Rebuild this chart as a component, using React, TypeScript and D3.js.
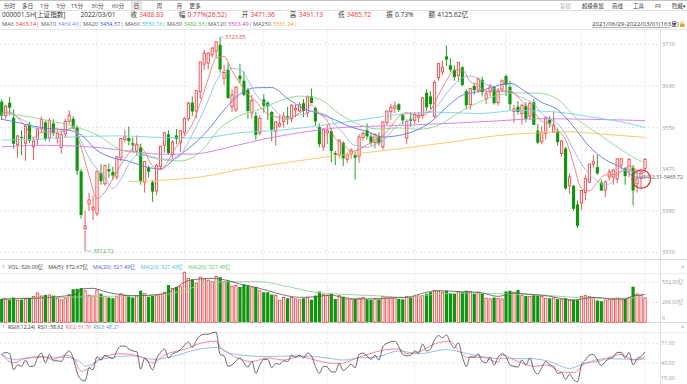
import React from 'react';
import * as d3 from 'd3';

const FONT = '"Open Sans", "Noto Sans CJK SC", sans-serif';

// ---- daily OHLC (2021/06/29 .. 2022/03/01, 163 trading days) ----
const opens = [
  3600, 3573, 3598, 3569, 3517, 3532, 3520, 3556, 3513, 3527,
  3548, 3560, 3530, 3558, 3530, 3512, 3538, 3562, 3567, 3551,
  3466, 3356, 3403, 3392, 3385, 3463, 3442, 3470, 3465, 3455,
  3492, 3527, 3530, 3520, 3505, 3512, 3445, 3473, 3445, 3428,
  3475, 3516, 3537, 3498, 3535, 3521, 3541, 3567, 3598, 3582,
  3619, 3672, 3674, 3690, 3697, 3709, 3645, 3661, 3590, 3584,
  3650, 3640, 3622, 3578, 3573, 3540, 3604, 3598, 3580, 3543,
  3553, 3562, 3572, 3567, 3584, 3582, 3597, 3578, 3610, 3588,
  3551, 3513, 3540, 3543, 3501, 3497, 3521, 3489, 3499, 3497,
  3495, 3531, 3545, 3533, 3521, 3533, 3513, 3560, 3581, 3587,
  3595, 3574, 3530, 3567, 3564, 3570, 3573, 3617, 3610, 3572,
  3646, 3657, 3687, 3670, 3661, 3650, 3666, 3620, 3594, 3630,
  3622, 3642, 3605, 3619, 3628, 3598, 3624, 3649, 3628, 3581,
  3590, 3577, 3592, 3572, 3599, 3544, 3523, 3539, 3565, 3541,
  3543, 3500, 3510, 3438, 3438, 3402, 3405, 3425, 3445, 3480,
  3474, 3444, 3430, 3455, 3455, 3451, 3478, 3472, 3467, 3473,
  3442, 3452, 3471.36,
];
const highs = [
  3604, 3594, 3609, 3585, 3536, 3545, 3556, 3561, 3532, 3550,
  3572, 3563, 3569, 3566, 3545, 3545, 3567, 3583, 3572, 3554,
  3470, 3390, 3425, 3420, 3468, 3480, 3479, 3481, 3475, 3495,
  3530, 3546, 3552, 3531, 3535, 3519, 3486, 3477, 3449, 3480,
  3515, 3541, 3545, 3526, 3547, 3545, 3570, 3600, 3610, 3622,
  3677, 3700, 3695, 3705, 3716, 3723.85, 3671, 3674, 3623, 3629,
  3673, 3658, 3626, 3613, 3580, 3574, 3614, 3601, 3582, 3562,
  3574, 3580, 3590, 3595, 3595, 3599, 3605, 3612, 3625, 3590,
  3558, 3549, 3557, 3548, 3505, 3527, 3524, 3502, 3510, 3504,
  3537, 3542, 3558, 3540, 3539, 3541, 3562, 3582, 3596, 3600,
  3597, 3576, 3566, 3580, 3580, 3580, 3609, 3624, 3620, 3641,
  3675, 3678, 3708, 3684, 3670, 3676, 3668, 3624, 3626, 3636,
  3647, 3648, 3623, 3634, 3630, 3626, 3643, 3652, 3640, 3594,
  3601, 3595, 3599, 3600, 3605, 3557, 3553, 3571, 3572, 3581,
  3548, 3527, 3513, 3462, 3440, 3410, 3430, 3459, 3480, 3497,
  3498, 3450, 3448, 3470, 3470, 3491, 3492, 3474, 3491, 3478,
  3465, 3468, 3491.13,
];
const lows = [
  3565, 3566, 3573, 3509, 3492, 3497, 3486, 3520, 3488, 3517,
  3540, 3524, 3523, 3533, 3519, 3500, 3530, 3557, 3546, 3459,
  3375, 3312.72, 3390, 3372, 3380, 3440, 3438, 3454, 3450, 3450,
  3486, 3522, 3516, 3503, 3497, 3440, 3425, 3454, 3407, 3420,
  3469, 3502, 3498, 3490, 3518, 3503, 3535, 3562, 3572, 3568,
  3605, 3661, 3662, 3685, 3684, 3656, 3632, 3605, 3580, 3580,
  3635, 3610, 3567, 3567, 3526, 3535, 3579, 3565, 3524, 3515,
  3550, 3550, 3556, 3560, 3570, 3580, 3570, 3570, 3597, 3553,
  3512, 3505, 3519, 3483, 3478, 3491, 3476, 3482, 3490, 3450,
  3482, 3525, 3527, 3516, 3510, 3515, 3508, 3555, 3565, 3578,
  3580, 3556, 3519, 3551, 3557, 3560, 3567, 3582, 3585, 3568,
  3640, 3651, 3668, 3657, 3640, 3638, 3629, 3585, 3585, 3613,
  3617, 3610, 3595, 3610, 3594, 3592, 3618, 3611, 3583, 3559,
  3575, 3556, 3560, 3565, 3555, 3518, 3518, 3527, 3550, 3541,
  3515, 3494, 3430, 3423, 3390, 3357, 3392, 3410, 3443, 3473,
  3459, 3428, 3416, 3448, 3440, 3443, 3470, 3440, 3455, 3400,
  3425, 3433, 3465.72,
];
const closes = [
  3573, 3591, 3588, 3519, 3534, 3530, 3553, 3525, 3524, 3547,
  3566, 3528, 3564, 3539, 3539, 3536, 3562, 3574, 3550, 3467,
  3382, 3361, 3411, 3397, 3465, 3447, 3477, 3466, 3458, 3494,
  3529, 3532, 3524, 3517, 3517, 3446, 3485, 3465, 3427, 3477,
  3514, 3540, 3501, 3522, 3528, 3544, 3567, 3597, 3581, 3621,
  3676, 3693, 3693, 3703, 3715, 3662, 3656, 3607, 3613, 3628,
  3643, 3613, 3582, 3602, 3536, 3568, 3592, 3591, 3546, 3561,
  3558, 3572, 3568, 3593, 3587, 3594, 3582, 3609, 3597, 3562,
  3518, 3547, 3544, 3505, 3498, 3526, 3491, 3498, 3507, 3492,
  3532, 3539, 3533, 3521, 3537, 3520, 3561, 3582, 3589, 3592,
  3584, 3564, 3562, 3563, 3576, 3573, 3607, 3589, 3595, 3637,
  3673, 3666, 3681, 3661, 3647, 3675, 3632, 3593, 3625, 3622,
  3643, 3618, 3615, 3630, 3597, 3620, 3640, 3632, 3595, 3586,
  3580, 3593, 3567, 3597, 3555, 3521, 3541, 3569, 3558, 3555,
  3522, 3524, 3433, 3455, 3394, 3361, 3429, 3452, 3480, 3485,
  3462, 3429, 3446, 3465, 3468, 3490, 3490, 3457, 3489, 3429,
  3451, 3462.31, 3488.83,
];
// volume (亿)
const volumes = [
  310, 300, 300, 330, 290, 300, 310, 320, 345, 390,
  350, 365, 365, 355, 320, 300, 320, 370, 440, 445,
  455, 420, 360, 350, 430, 380, 345, 330, 320, 340,
  380, 360, 345, 330, 350, 420, 380, 340, 350, 360,
  370, 400, 495, 450, 470, 480, 665, 585, 570, 520,
  600, 580, 560, 540, 610, 600, 540, 555, 480, 490,
  470, 500, 490, 460, 470, 420, 400, 400, 370, 360,
  290, 330, 320, 330, 310, 300, 320, 330, 300, 355,
  410, 370, 360, 380, 310, 355, 340, 310, 300, 310,
  320, 330, 305, 300, 310, 305, 345, 340, 335, 330,
  310, 305, 345, 330, 340, 350, 355, 380, 400, 420,
  415, 400, 420, 390, 380, 410, 400, 420, 410, 380,
  400, 377, 320, 310, 330, 315, 310, 410, 420, 400,
  430, 355, 350, 345, 360, 355, 345, 320, 320, 325,
  310, 300, 320, 290, 300, 295, 345, 355, 340, 330,
  290, 280, 295, 300, 305, 320, 300, 310, 330, 474,
  377, 360, 326,
];

// moving averages: [day index, value]
const ma6 = [[0,3577],[2,3580],[4,3569],[6,3552.5],[8,3530.8],[10,3540.8],[12,3542.3],[14,3547.2],[16,3544.7],[18,3550],[20,3511.8],[22,3457.5],[24,3413.8],[26,3426.3],[28,3451.7],[30,3478.5],[32,3500.5],[34,3518.8],[36,3503.5],[38,3476.2],[40,3469],[42,3487.3],[44,3513.7],[46,3533.7],[48,3556.5],[50,3597.7],[52,3643.5],[54,3683.5],[56,3687],[58,3659.3],[60,3634.8],[62,3614.3],[64,3600.7],[66,3582.2],[68,3572.5],[70,3569.3],[72,3566],[74,3573.2],[76,3582.7],[78,3593.7],[80,3577],[82,3562.8],[84,3529],[86,3518.5],[88,3504.2],[90,3507.7],[92,3516.8],[94,3525.7],[96,3535.2],[98,3551.7],[100,3571.3],[102,3578.8],[104,3573.5],[106,3574.2],[108,3583.8],[110,3612.3],[112,3640.2],[114,3660.8],[116,3660.3],[118,3638.8],[120,3631.7],[122,3619.3],[124,3620.8],[126,3620],[128,3619],[130,3608.8],[132,3592.2],[134,3579.7],[136,3562.3],[138,3556.8],[140,3544.3],[142,3526.8],[144,3480.5],[146,3432.7],[148,3428.5],[150,3444.8],[152,3459],[154,3459.2],[156,3464.7],[158,3476.5],[160,3467.7],[162,3463.14]];
const ma10 = [[0,3575],[2,3578],[4,3570],[6,3562],[8,3550],[10,3547.7],[12,3539],[14,3541.5],[16,3543],[18,3550.5],[20,3524.1],[22,3492.1],[24,3470.5],[26,3453.1],[28,3433.1],[30,3450.5],[32,3478.9],[34,3496.1],[36,3496.8],[38,3493.6],[40,3490.4],[42,3488.9],[44,3490.5],[46,3508.5],[48,3537.1],[50,3567.7],[52,3602.2],[54,3639],[56,3659.7],[58,3663.9],[60,3661.3],[62,3642.2],[64,3614.2],[66,3598.4],[68,3590.1],[70,3574.9],[72,3569.4],[74,3573.6],[76,3575.2],[78,3582.1],[80,3578.2],[82,3573.3],[84,3555.6],[86,3539.7],[88,3519.6],[90,3514],[92,3512.1],[94,3517.6],[96,3524],[98,3540.6],[100,3555.8],[102,3561.2],[104,3569.3],[106,3579.2],[108,3580.5],[110,3593.9],[112,3616],[114,3632.9],[116,3645.6],[118,3649],[120,3644.5],[122,3633.1],[124,3625],[126,3620.3],[128,3621.2],[130,3611.3],[132,3604],[134,3596.5],[136,3576.7],[138,3566.7],[140,3557.8],[142,3537.5],[144,3507.2],[146,3480],[148,3460.5],[150,3447.5],[152,3439.3],[154,3447.7],[156,3466.7],[158,3468.1],[160,3461.4],[162,3469.4]];
const ma20 = [[0,3566],[4,3560],[8,3553],[12,3548],[16,3546],[20,3535.9],[24,3506],[28,3491.8],[32,3485.5],[36,3475],[40,3470.5],[44,3493.3],[48,3515.4],[52,3545.6],[56,3584.1],[60,3614.5],[64,3626.6],[68,3627],[72,3605.8],[76,3586.8],[80,3576.6],[84,3564.6],[88,3550.9],[92,3542.7],[96,3531.9],[100,3534.9],[104,3543.5],[108,3560.6],[112,3588.6],[116,3612.4],[120,3619.2],[124,3629],[128,3635.1],[132,3618.6],[136,3598.5],[140,3584.6],[144,3551.9],[148,3513.6],[152,3488.4],[156,3473.4],[160,3454.5],[162,3454.57]];
const ma30 = [[0,3578],[6,3572],[12,3563],[18,3553],[24,3536],[30,3507.4],[35,3499.9],[40,3488.3],[45,3486],[50,3502.9],[55,3549],[60,3573.1],[65,3585.3],[70,3601.3],[75,3610.6],[80,3604.8],[85,3576.6],[90,3555.7],[95,3547.3],[100,3549.3],[105,3546.8],[110,3554.6],[115,3578.2],[120,3598.1],[125,3612.4],[130,3616.6],[135,3616.4],[140,3604.5],[145,3565.8],[150,3538.9],[155,3512.8],[160,3488.9],[162,3482.33]];
const ma60 = [[0,3526],[10,3528],[20,3533],[30,3534],[40,3531],[50,3530],[60,3540.3],[70,3544.8],[80,3553.8],[90,3564.4],[100,3575.3],[110,3579.7],[120,3576.9],[130,3583],[140,3579.6],[150,3568.5],[155,3562.6],[162,3550.16]];
const ma120 = [[0,3513],[10,3516],[20,3514],[30,3507],[40,3499],[48,3499],[56,3510],[66,3528],[75,3540],[85,3550],[100,3554],[115,3559],[125,3563],[135,3567],[148,3566],[162,3563.49]];
const ma250 = [[32,3446],[41,3449],[50,3455],[61,3471],[72,3483],[82,3494],[92,3502],[103,3512],[113,3522],[123,3533],[135,3540],[143,3542],[152,3537],[162,3531.24]];

// volume moving averages [day index, 亿]
const volMa5 = [[0,310],[8,319],[15,345],[19,377],[20,443],[23,452],[26,408],[33,354],[38,363],[42,399],[44,465],[47,554],[50,576],[53,585],[57,554],[60,509],[63,478],[67,421],[71,363],[75,332],[80,345],[83,363],[85,340],[90,310],[96,319],[102,332],[107,399],[110,421],[115,408],[120,399],[125,345],[129,390],[132,377],[137,354],[144,297],[149,332],[154,310],[157,310],[159,354],[161,363],[162,372.67]];
const volMa20 = [[0,319],[16,332],[25,345],[35,354],[42,377],[47,443],[53,532],[60,540],[65,540],[71,487],[79,399],[85,375],[94,354],[102,332],[110,377],[119,390],[127,377],[136,363],[144,332],[152,319],[162,327.49]];

// RSI(6,12,24)
const rsi1 = [[0,55],[1,58],[2,56],[3,33],[4,40],[5,38],[6,47],[7,38],[8,38],[9,50],[10,57],[11,43],[12,55],[13,46],[14,46],[15,45],[16,55],[17,60],[18,50],[19,29],[20,19],[21,17],[22,36],[23,33],[24,52],[25,47],[26,54],[27,51],[28,49],[29,60],[30,67],[31,67],[32,63],[33,60],[34,59],[35,34],[36,50],[37,43],[38,33],[39,49],[40,58],[41,63],[42,50],[43,56],[44,58],[45,62],[46,68],[47,73],[48,65],[49,75],[50,82],[51,84],[52,84],[53,86],[54,87],[55,55],[56,53],[57,38],[58,40],[59,46],[60,50],[61,43],[62,37],[63,45],[64,28],[65,40],[66,48],[67,48],[68,36],[69,42],[70,41],[71,46],[72,45],[73,54],[74,51],[75,54],[76,50],[77,57],[78,53],[79,38],[80,28],[81,38],[82,37],[83,30],[84,30],[85,42],[86,32],[87,36],[88,41],[89,36],[90,55],[91,57],[92,53],[93,48],[94,54],[95,47],[96,66],[97,71],[98,73],[99,74],[100,66],[101,55],[102,53],[103,54],[104,60],[105,57],[106,70],[107,60],[108,63],[109,76],[110,82],[111,79],[112,83],[113,72],[114,64],[115,72],[116,52],[117,38],[118,52],[119,51],[120,56],[121,45],[122,43],[123,51],[124,40],[125,51],[126,56],[127,52],[128,40],[129,38],[130,37],[131,47],[132,40],[133,50],[134,33],[135,27],[136,36],[137,45],[138,40],[139,38],[140,28],[141,29],[142,19],[143,27],[144,19],[145,16],[146,40],[147,47],[148,54],[149,55],[150,47],[151,39],[152,45],[153,49],[154,51],[155,58],[156,58],[157,50],[158,58],[159,40],[160,49],[161,52],[162,58.62]];
const rsi2 = [[0,55],[3,43],[6,50],[10,52],[13,48],[16,54],[18,50],[20,31],[23,40],[25,50],[30,56],[35,52],[38,43],[41,54],[47,64],[50,71],[54,74],[55,66],[58,54],[63,45],[67,50],[71,47],[75,52],[79,47],[82,43],[85,42],[90,51],[96,61],[100,63],[102,56],[105,59],[110,72],[113,74],[115,61],[117,51],[121,51],[125,44],[126,54],[130,45],[134,38],[137,40],[141,30],[144,29],[147,42],[150,45],[156,55],[159,47],[162,51.76]];
const rsi3 = [[0,55],[3,48],[10,51],[16,51],[20,43],[21,38],[25,48],[33,53],[38,48],[43,52],[49,62],[54,65],[58,56],[67,52],[75,53],[82,50],[86,47],[90,50],[94,51],[100,60],[105,56],[112,62],[115,59],[119,54],[126,49],[133,49],[138,45],[143,35],[147,43],[152,49],[160,48],[162,48.27]];

// ticks & labels
const priceTicks = [3710, 3630, 3550, 3470, 3390, 3310];
const volTicks = [532, 266, 0];
const volTickLabels = ['532.00亿', '266.00亿', '0'];
const rsiTicks = [71, 43, 15];
const rsiTickLabels = ['71.00', '43.00', '15.00'];
const monthStarts = [24, 46, 66, 82, 104, 127, 146, 162];
const tabs = ['分时', '多日', '1分', '5分', '15分', '30分', '60分', '日', '周', '月', '更多'];
const toolbar = ['复权', '超级叠加', '画线', '工具', 'F9', '隐藏'];
const quoteLabels = ['收', '幅', '开', '高', '低', '振', '额'];
const quoteValues = ['3488.83', '0.77%(26.52)', '3471.36', '3491.13', '3465.72', '0.73%', '4125.62亿'];
const maNames = ['MA6', 'MA10', 'MA20', 'MA60', 'MA30', 'MA120', 'MA250'];
const maValues = ['3463.14', '3469.40', '3454.57', '3550.16', '3482.33', '3563.49', '3531.24'];
const volHeader = ['VOL: 326.00亿', 'MA(5): 372.67亿', 'MA(20): 327.49亿', 'MA(20): 327.49亿', 'MA(20): 327.49亿'];
const rsiHeader = ['RSI(6,12,24)', 'RSI1: 58.62', 'RSI2: 51.76', 'RSI3: 48.27'];

export default function App() {
  const n = closes.length;
  const x = d3.scaleLinear().domain([0, n - 1]).range([1.7, 645]);
  const yP = d3.scaleLinear().domain([3310, 3710]).range([252.4, 44.4]);
  const yV = d3.scaleLinear().domain([0, 532]).range([322.3, 282.3]);
  const yR = d3.scaleLinear().domain([15, 71]).range([382.4, 343.3]);

  const RED = '#f04646';
  const GREEN = '#0e960e';
  const GRID = '#e4e4e4';
  const AXIS_TXT = '#9a9a9a';

  const mk = (ys: any) => d3.line<number[]>().x(d => x(d[0])).y(d => ys(d[1])).curve(d3.curveMonotoneX);
  const lp = mk(yP), lv = mk(yV), lr = mk(yR);

  const maSeries = [
    { d: ma250, c: '#f6c45e' },
    { d: ma120, c: '#d277e6' },
    { d: ma60, c: '#78d3ec' },
    { d: ma30, c: '#8bd48b' },
    { d: ma20, c: '#5a78e4' },
    { d: ma10, c: '#93b6ea' },
    { d: ma6, c: '#f07676' },
  ];
  const maLegendColors = ['#e8353b', '#5f92e6', '#3557d8', '#2fbde0', '#47b847', '#c43bd6', '#eda21c'];

  const tabX = [9.5, 27.5, 44.5, 61, 77, 97.5, 118, 136.5, 159.5, 179.5, 195];
  const toolX = [560, 582, 612, 633, 655, 672];
  const maGroupX = [2, 41, 83, 125, 167, 208, 253];

  const hiIdx = highs.indexOf(d3.max(highs) as number);
  const loIdx = lows.indexOf(d3.min(lows) as number);

  return (
    <svg width={687} height={384} style={{ position: 'absolute', left: 0, top: 0 }} fontFamily={FONT}>
      <rect x={0} y={0} width={687} height={384} fill="#fff" />

      {/* ---------- top tab bar ---------- */}
      <line x1={0} x2={687} y1={0.5} y2={0.5} stroke="#c4c4c4" />
      <rect x={131} y={1} width={11} height={9.5} fill="#e4e4e4" />
      {tabs.map((t, i) => (
        <text key={t} x={tabX[i]} y={7.9} fontSize={5.8} textAnchor="middle" fill="#444">{t}</text>
      ))}
      {toolbar.map((t, i) => (
        <text key={t} x={toolX[i]} y={7.9} fontSize={5.4} fill={i === 0 ? '#b0b0b0' : '#333'}>{t}{i === toolbar.length - 1 ? '▾' : ''}</text>
      ))}
      <line x1={0} x2={687} y1={10.5} y2={10.5} stroke="#e2e2e2" />

      {/* ---------- quote row ---------- */}
      <text x={2} y={17.4} fontSize={6.6} fill="#333">
        <tspan>000001.SH[上证指数]</tspan>
        <tspan dx={15}>2022/03/01</tspan>
        {quoteLabels.map((l, i) => (
          <React.Fragment key={l}>
            <tspan dx={15} fill="#333">{l}</tspan>
            <tspan dx={2.2} fill={i < 5 ? '#e8353b' : '#333'}>{quoteValues[i]}</tspan>
          </React.Fragment>
        ))}
      </text>

      {/* ---------- MA legend row ---------- */}
      {maNames.map((m, i) => (
        <text key={m} x={maGroupX[i]} y={26.4} fontSize={5.6}>
          <tspan fill="#555">{m}</tspan>
          <tspan dx={1.8} fill={maLegendColors[i]}>{maValues[i]}|</tspan>
        </text>
      ))}
      <text x={592} y={26.3} fontSize={6.1} fill="#333">2021/06/29-2022/03/01(163日)</text>
      <line x1={592} x2={670} y1={27.4} y2={27.4} stroke="#555" strokeWidth={0.5} />
      <path d="M671.8,22.8 L676.6,22.8 L674.2,26.3 Z" fill="#555" />
      <rect x={680} y={23.5} width={4.5} height={3.5} fill="#f0a020" />
      <path d="M681,23.5 L681,21.8 Q682.3,20.3 683.6,21.8" fill="none" stroke="#f0a020" strokeWidth={0.8} />

      {/* ---------- frame / grid ---------- */}
      <line x1={0} x2={687} y1={29.5} y2={29.5} stroke="#e6e6e6" />
      {priceTicks.map(t => (
        <line key={t} x1={0} x2={660} y1={yP(t)} y2={yP(t)} stroke={GRID} strokeDasharray="2,2" />
      ))}
      {monthStarts.map(i => (
        <line key={i} x1={x(i)} x2={x(i)} y1={29.5} y2={384} stroke={GRID} strokeDasharray="2,2" />
      ))}
      <line x1={660.5} x2={660.5} y1={29.5} y2={384} stroke="#e2e2e2" />
      <line x1={0} x2={687} y1={259.5} y2={259.5} stroke="#dcdcdc" />
      <line x1={0} x2={687} y1={273.5} y2={273.5} stroke="#ececec" />
      {volTicks.slice(0, 2).map(t => (
        <line key={t} x1={0} x2={660} y1={yV(t)} y2={yV(t)} stroke={GRID} strokeDasharray="2,2" />
      ))}
      <line x1={0} x2={687} y1={322.5} y2={322.5} stroke="#dcdcdc" />
      <line x1={0} x2={687} y1={332.5} y2={332.5} stroke="#ececec" />
      {rsiTicks.slice(0, 2).map(t => (
        <line key={t} x1={0} x2={660} y1={yR(t)} y2={yR(t)} stroke={GRID} strokeDasharray="2,2" />
      ))}

      {/* ---------- axis labels ---------- */}
      {priceTicks.map(t => (
        <text key={t} x={662} y={yP(t) + 2} fontSize={5.6} fill={AXIS_TXT}>{t}</text>
      ))}
      {volTicks.map((t, i) => (
        <text key={t} x={662} y={Math.min(yV(t) + 2, 319.8)} fontSize={5.2} fill={AXIS_TXT}>{volTickLabels[i]}</text>
      ))}
      {rsiTicks.map((t, i) => (
        <text key={t} x={661} y={Math.min(yR(t) + 2, 379.8)} fontSize={5.4} fill={AXIS_TXT}>{rsiTickLabels[i]}</text>
      ))}

      {/* ---------- candles ---------- */}
      {closes.map((c, i) => {
        const o = opens[i], h = highs[i], l = lows[i];
        const up = c >= o;
        const cx = x(i);
        const yt = yP(Math.max(o, c)), yb = yP(Math.min(o, c));
        const bh = Math.max(yb - yt, 0.8);
        if (up) {
          return (
            <g key={i} stroke={RED} strokeWidth={0.9} fill="#fff">
              <line x1={cx} x2={cx} y1={yP(h)} y2={yt} />
              <line x1={cx} x2={cx} y1={yt + bh} y2={yP(l)} />
              <rect x={cx - 1.1} y={yt} width={2.2} height={bh} />
            </g>
          );
        }
        return (
          <g key={i} fill={GREEN}>
            <line x1={cx} x2={cx} y1={yP(h)} y2={yP(l)} stroke={GREEN} strokeWidth={0.9} />
            <rect x={cx - 1.55} y={yt} width={3.1} height={bh} />
          </g>
        );
      })}

      {/* ---------- MA lines ---------- */}
      {maSeries.map((s, k) => (
        <path key={k} d={lp(s.d as any) || ''} fill="none" stroke={s.c} strokeWidth={0.9} />
      ))}

      {/* extremes */}
      <path d={`M${x(hiIdx)},${yP(highs[hiIdx])} H${x(hiIdx) + 4}`} stroke="#8fb0c8" strokeWidth={0.7} fill="none" />
      <text x={x(hiIdx) + 5} y={yP(highs[hiIdx]) + 2} fontSize={5.6} fill="#e0504a">{highs[hiIdx].toFixed(2)}</text>
      <path d={`M${x(loIdx)},${yP(lows[loIdx])} H${x(loIdx) + 7}`} stroke="#8fb0c8" strokeWidth={0.7} fill="none" />
      <text x={x(loIdx) + 8} y={yP(lows[loIdx]) + 2} fontSize={5.6} fill="#4aa84a">{lows[loIdx].toFixed(2)}</text>

      {/* gap annotation */}
      <text x={643} y={178.7} fontSize={5.2} fill="#555">{closes[n - 2].toFixed(2)}-{lows[n - 1].toFixed(2)}</text>
      <circle cx={641.3} cy={179} r={9.2} fill="none" stroke="#e8302a" strokeWidth={1.2} />

      {/* ---------- volume ---------- */}
      <text x={2} y={269.2} fontSize={5.4} fill="#888">?</text>
      <text x={8} y={269.2} fontSize={5.4}>
        {volHeader.map((t, i) => (
          <tspan key={i} dx={i === 0 ? 0 : 5} fill={['#333', '#333', '#4a63e0', '#40c0e8', '#5cc85c'][i]}>{t}</tspan>
        ))}
      </text>
      <text x={681} y={269.2} fontSize={6} fill="#999">×</text>
      {volumes.map((v, i) => {
        const up = closes[i] >= opens[i];
        const cx = x(i);
        const yt = yV(v), yb = yV(0);
        return up ? (
          <rect key={i} x={cx - 1.15} y={yt} width={2.3} height={yb - yt} fill="#fff" stroke={RED} strokeWidth={0.9} />
        ) : (
          <rect key={i} x={cx - 1.6} y={yt} width={3.2} height={yb - yt} fill={GREEN} />
        );
      })}
      <path d={lv(volMa20 as any) || ''} fill="none" stroke="#8fd68f" strokeWidth={0.9} />
      <path d={lv(volMa5 as any) || ''} fill="none" stroke="#555" strokeWidth={0.8} />

      {/* ---------- RSI ---------- */}
      <text x={2} y={329} fontSize={5.4} fill="#888">?</text>
      <text x={8} y={329} fontSize={5.0}>
        {rsiHeader.map((t, i) => (
          <tspan key={i} dx={i === 0 ? 0 : 2.5} fill={['#333', '#333', '#f0607a', '#5b8fd9'][i]}>{t}</tspan>
        ))}
      </text>
      <text x={681} y={329} fontSize={6} fill="#999">×</text>
      <path d={lr(rsi3 as any) || ''} fill="none" stroke="#8fb2e4" strokeWidth={0.9} />
      <path d={lr(rsi2 as any) || ''} fill="none" stroke="#f07b8c" strokeWidth={0.9} />
      <path d={lr(rsi1 as any) || ''} fill="none" stroke="#444" strokeWidth={0.8} />
    </svg>
  );
}
